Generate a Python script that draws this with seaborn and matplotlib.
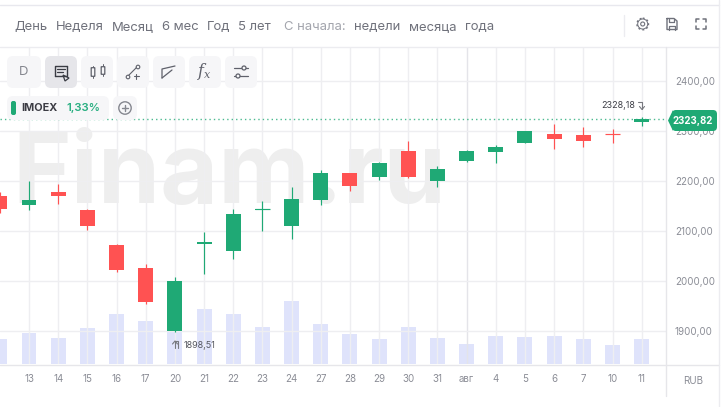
import numpy as np
import pandas as pd
import seaborn as sns
import matplotlib.pyplot as plt
from matplotlib.patches import FancyBboxPatch, Circle, Polygon

# days on the x axis ("" is the candle cut off at the left edge)
days = ["", "13", "14", "15", "16", "17", "20", "21", "22", "23", "24", "27",
        "28", "29", "30", "31", "авг", "4", "5", "6", "7", "10", "11"]

open_price = [2170.6, 2152.6, 2178.6, 2142.6, 2072.6, 2026.6, 1900.6, 2074.6, 2060.6, 2142.0, 2110.6, 2162.6,
              2216.6, 2208.6, 2260.6, 2200.6, 2240.6, 2258.6, 2276.6, 2294.6, 2292.6, 2295.0, 2319.0]
close_price = [2144.6, 2162.6, 2170.6, 2110.6, 2022.6, 1958.6, 2000.6, 2078.6, 2134.6, 2144.0, 2164.6, 2216.6,
               2190.6, 2236.6, 2208.6, 2224.6, 2260.6, 2268.6, 2300.6, 2284.6, 2280.6, 2294.0, 2323.82]
high_price = [2178.6, 2200.6, 2194.6, 2144.6, 2074.6, 2034.6, 2008.6, 2098.6, 2144.6, 2160.6, 2188.6, 2222.6,
              2216.6, 2238.6, 2280.6, 2230.6, 2262.6, 2272.6, 2300.6, 2314.6, 2308.6, 2304.6, 2328.18]
low_price = [2136.6, 2142.6, 2154.6, 2102.6, 2018.6, 1954.6, 1898.51, 2014.6, 2044.6, 2100.6, 2084.6, 2152.6,
             2180.6, 2202.6, 2206.6, 2188.6, 2238.6, 2236.6, 2276.6, 2264.6, 2268.6, 2276.6, 2310.0]
volume = [25, 31, 26, 36, 50, 43, 33, 55, 50, 37, 63, 40,
          30, 25, 37, 26, 20, 28, 27, 28, 25, 19, 25]

price_ticks = [1900, 2000, 2100, 2200, 2300, 2400]
last_price = 2323.82

top_periods = ["День", "Неделя", "Месяц", "6 мес", "Год", "5 лет"]
top_periods_x = [14, 56, 112, 162, 207, 238]
since_labels = ["недели", "месяца", "года"]
since_labels_x = [354, 409, 465]

GREEN = "#1fa975"
RED = "#ff5252"
VOL = "#dfe3fb"
GRID = "#eeeef1"
TEXT = "#6f717b"
BODY_W = 0.514

sns.set_theme(style="white")
plt.rcParams["font.family"] = ["Inter", "DejaVu Sans"]

df = pd.DataFrame({"i": np.arange(len(days)), "o": open_price, "c": close_price,
                   "h": high_price, "l": low_price, "v": volume})
df["bottom"] = df[["o", "c"]].min(axis=1)
df["size"] = (df["o"] - df["c"]).abs()
up = df[df["c"] >= df["o"]]
down = df[df["c"] < df["o"]]

fig = plt.figure(figsize=(7.25, 4.07), dpi=100, facecolor="white")
rect = [0, (407 - 364.3) / 407, 666.5 / 725, (364.3 - 47) / 407]
xlim = (0.006, 22.85)
ylim = (1834, 2468.6)

# watermark and volume go underneath
fig.text(12 / 725, 1 - 203 / 407, "Finam.ru", fontsize=72, fontweight="bold", color="#eeeeee", zorder=0)

vol_ax = fig.add_axes(rect, zorder=1)
vol_ax.patch.set_alpha(0)
sns.barplot(data=df, x="i", y="v", native_scale=True, width=BODY_W, color=VOL,
            saturation=1, errorbar=None, linewidth=0, ax=vol_ax)
vol_ax.set_xlim(xlim)
vol_ax.set_ylim(0, 317.3)
vol_ax.axis("off")

# price axes
ax = fig.add_axes(rect, zorder=2)
ax.patch.set_alpha(0)
sns.barplot(data=up, x="i", y="size", bottom=up["bottom"].values, native_scale=True, width=BODY_W,
            color=GREEN, saturation=1, errorbar=None, linewidth=0, ax=ax, zorder=3)
sns.barplot(data=down, x="i", y="size", bottom=down["bottom"].values, native_scale=True, width=BODY_W,
            color=RED, saturation=1, errorbar=None, linewidth=0, ax=ax, zorder=3)
ax.vlines(up["i"], up["l"], up["h"], color=GREEN, lw=0.85, zorder=3)
ax.vlines(down["i"], down["l"], down["h"], color=RED, lw=0.85, zorder=3)
# very thin bodies vanish as bars, so they get a 1px line
thin_up = up[up["size"] < 4]
thin_down = down[down["size"] < 4]
ax.hlines(thin_up["c"], thin_up["i"] - BODY_W / 2, thin_up["i"] + BODY_W / 2, color=GREEN, lw=0.85, zorder=3)
ax.hlines(thin_down["c"], thin_down["i"] - BODY_W / 2, thin_down["i"] + BODY_W / 2, color=RED, lw=0.85, zorder=3)
ax.axhline(last_price, color=GREEN, lw=1, ls=(0, (1, 2.2)), alpha=0.8, zorder=2)

ax.set_xlim(xlim)
ax.set_ylim(ylim)
ax.set_xlabel("")
ax.set_ylabel("")
ax.set_xticks(df["i"][1:], days[1:])
ax.set_yticks(price_ticks, [f"{p},00" for p in price_ticks])
ax.yaxis.tick_right()
ax.tick_params(axis="x", length=0, pad=7, labelsize=7, labelcolor="#8b8d96")
ax.tick_params(axis="y", length=0, pad=6, labelsize=7, labelcolor="#8b8d96")
ax.grid(True, color=GRID, lw=1)
ax.set_axisbelow(True)
ax.get_xgridlines()[15].set_color("#e4e4e9")
for s in ax.spines.values():
    s.set_visible(False)

# everything around the chart, in pixels
ui = fig.add_axes([0, 0, 1, 1], zorder=5)
ui.set_xlim(0, 725)
ui.set_ylim(407, 0)
ui.axis("off")


def button(x0, y0, x1, y1, color="#f6f6f8", r=6):
    ui.add_patch(FancyBboxPatch((x0 + r, y0 + r), x1 - x0 - 2 * r, y1 - y0 - 2 * r,
                                boxstyle=f"round,pad={r},rounding_size={r}", fc=color, ec="none"))


def line(xs, ys, color="#5f616b", lw=0.9):
    ui.plot(xs, ys, color=color, lw=lw, solid_capstyle="round")


# frame lines
line([0, 719], [4.5, 4.5], "#e8e8ee", 1)
line([0, 719], [47, 47], "#ececf0", 1)
line([0, 719], [364.5, 364.5], "#e6e6ea", 1)
line([719.5, 719.5], [0, 407], "#ececf0", 1)
line([666.5, 666.5], [47, 396], "#e6e6ea", 1)
line([624, 624], [15, 36], "#ececf0", 1)

# top row
for label, x in zip(top_periods, top_periods_x):
    ui.text(x, 27, label, fontsize=9.4, color=TEXT, va="center")
ui.text(284, 27, "С начала:", fontsize=9.4, color="#a3a5ad", va="center")
for label, x in zip(since_labels, since_labels_x):
    ui.text(x, 27, label, fontsize=9.4, color=TEXT, va="center")

# gear, floppy, fullscreen
ui.add_patch(Circle((642.7, 24), 5.0, fc="none", ec=TEXT, lw=0.7))
ui.add_patch(Circle((642.7, 24), 5.8, fc="none", ec=TEXT, lw=1, ls=(0, (1.4, 1.6))))
ui.add_patch(Circle((642.7, 24), 2, fc="none", ec=TEXT, lw=0.8))
line([667, 674, 677, 677, 667, 667], [18.5, 18.5, 21, 29.5, 29.5, 18.5], TEXT, 1)
line([669, 669, 674, 674], [18.5, 22, 22, 18.5], TEXT, 0.9)
line([669, 669, 675, 675], [29.5, 25.5, 25.5, 29.5], TEXT, 0.9)
line([696, 696, 699], [22, 19, 19], TEXT, 1.1)
line([703, 706, 706], [19, 19, 22], TEXT, 1.1)
line([696, 696, 699], [26, 29, 29], TEXT, 1.1)
line([703, 706, 706], [29, 29, 26], TEXT, 1.1)

# toolbar buttons
for x0, x1 in [(7, 41), (81, 113), (117, 149), (153, 185), (189, 221), (225, 257)]:
    button(x0, 56, x1, 88)
button(45, 56, 77, 88, "#e6e6ea")
ui.text(23.5, 72, "D", fontsize=9.5, color="#85878f", ha="center", va="center")
line([55, 67, 67], [76, 76, 66], "#3a3c44", 1)
line([55, 55, 67], [76, 66, 66], "#3a3c44", 1)
line([57, 65], [69, 69], "#3a3c44", 0.9)
line([57, 63], [72, 72], "#3a3c44", 0.9)
ui.add_patch(Polygon([[63, 75], [69, 78], [65, 81]], fc="none", ec="#3a3c44", lw=0.9))
line([93, 93], [66, 78], "#5f616b", 0.7)
line([103, 103], [64, 76], "#5f616b", 0.7)
ui.add_patch(FancyBboxPatch((91.5, 68), 3, 8, boxstyle="round,pad=0.3", fc="#f6f6f8", ec="#5f616b", lw=0.9, zorder=3))
ui.add_patch(FancyBboxPatch((101.5, 67), 3, 7, boxstyle="round,pad=0.3", fc="#f6f6f8", ec="#5f616b", lw=0.9, zorder=3))
line([128, 137], [76, 67], "#5f616b", 0.8)
ui.add_patch(Circle((128, 77), 1.8, fc="#f6f6f8", ec="#5f616b", lw=0.8, zorder=3))
ui.add_patch(Circle((138, 67), 1.8, fc="#f6f6f8", ec="#5f616b", lw=0.8, zorder=3))
line([134, 139], [76, 76], "#5f616b", 0.8)
line([136.5, 136.5], [73.5, 78.5], "#5f616b", 0.8)
line([162, 162, 175], [78, 69, 66], "#5f616b", 0.9)
line([162, 172], [78, 70], "#5f616b", 0.9)
ui.text(205, 72, "$f_x$", fontsize=11.5, color="#5f616b", ha="center", va="center",
        math_fontfamily="dejavuserif")
line([234, 248], [68, 68], "#5f616b", 0.9)
line([234, 248], [76, 76], "#5f616b", 0.9)
ui.add_patch(Circle((244, 68), 2, fc="#f6f6f8", ec="#5f616b", lw=0.9, zorder=3))
ui.add_patch(Circle((238, 76), 2, fc="#f6f6f8", ec="#5f616b", lw=0.9, zorder=3))

# ticker chip
button(7, 96, 109, 120, "#f6f6f8")
button(11, 101, 16, 115, GREEN, r=2)
ui.text(21.5, 108, "IMOEX", fontsize=7.8, fontweight="bold", color="#3c3c44", va="center")
ui.text(66, 108, "1,33%", fontsize=8.2, fontweight="semibold", color="#27ae80", va="center")
button(113, 96, 137, 120, "#f6f6f8")
ui.add_patch(Circle((125, 108), 6.2, fc="none", ec="#85878f", lw=1))
line([122, 128], [108, 108], "#85878f", 1)
line([125, 125], [105, 111], "#85878f", 1)

# last price tag
ui.add_patch(Polygon([[668, 120.5], [673, 110], [673, 131]], fc=GREEN, ec="none"))
button(672, 110, 717, 131, GREEN, r=4)
ui.text(692.5, 120.5, "2323,82", fontsize=7, fontweight="bold", color="white", ha="center", va="center")
ui.text(693, 380.5, "RUB", fontsize=7, color="#8b8d96", ha="center", va="center")

# high / low notes
ui.text(184, 345, "1898,51", fontsize=6.5, color="#55575f", va="center")
line([175, 175, 178, 178], [348, 341, 341, 348], "#77797f", 0.8)
line([172.5, 175, 177.5], [344, 341, 344], "#77797f", 0.8)
ui.text(601, 105, "2328,18", fontsize=6.5, color="#3f4048", va="center")
line([638, 642, 642], [102, 102, 109], "#77797f", 0.8)
line([639.5, 642, 644.5], [106.5, 109.5, 106.5], "#77797f", 0.8)

plt.savefig("out.png", dpi=100)
plt.close()
